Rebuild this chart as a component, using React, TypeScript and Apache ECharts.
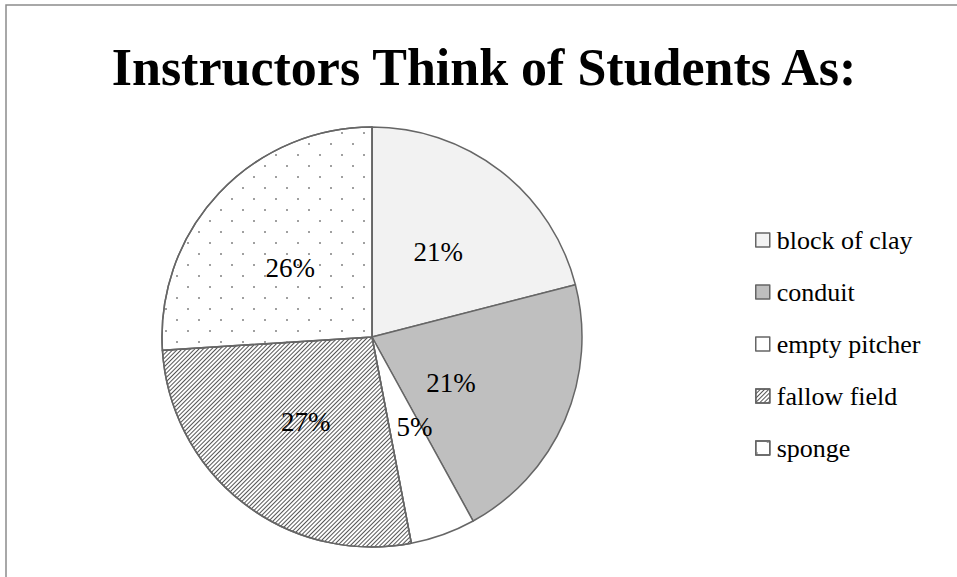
import React, { useEffect, useRef } from "react";
import * as echarts from "echarts";

const titleText = "Instructors Think of Students As:";
const categories = ["block of clay", "conduit", "empty pitcher", "fallow field", "sponge"];
const values = [21, 21, 5, 27, 26];

const FONT = "'Liberation Serif', 'Times New Roman', serif";

export default function App() {
  const ref = useRef<HTMLDivElement>(null);
  useEffect(() => {
    if (!ref.current) return;
    const chart = echarts.init(ref.current, undefined, { renderer: "svg" });
    const fills: Record<string, string> = {
      "block of clay": "#f2f2f2",
      conduit: "#bfbfbf",
      "empty pitcher": "#ffffff",
      "fallow field": "#ffffff",
      sponge: "#ffffff",
    };
    const decals: Record<string, any> = {
      "fallow field": {
        symbol: "rect",
        symbolSize: 1,
        dashArrayX: [1, 0],
        dashArrayY: [1, 2],
        rotation: -Math.PI / 4,
        color: "#555555",
      },
      sponge: {
        symbol: "rect",
        symbolSize: 1,
        dashArrayX: [[2, 20], [0, 11, 2, 9]],
        dashArrayY: [2, 9],
        rotation: 0,
        color: "#a0a0a0",
      },
    };
    const labelNudge: Record<string, number[]> = {
      conduit: [-20, 3],
      "empty pitcher": [6, -12],
      sponge: [-3, 5],
    };
    const data = categories.map((name, i) => {
      const itemStyle: any = { color: fills[name] };
      if (decals[name]) itemStyle.decal = decals[name];
      const item: any = { name, value: values[i], itemStyle };
      if (labelNudge[name]) item.label = { offset: labelNudge[name] };
      return item;
    });
    chart.setOption({
      animation: false,
      aria: { enabled: false, decal: { show: true } },
      title: {
        text: titleText,
        left: 479,
        textAlign: "center",
        top: 36,
        textStyle: { fontFamily: FONT, fontWeight: "bold", fontSize: 52, color: "#000" },
      },
      graphic: [
        {
          type: "rect",
          shape: { x: 6, y: 5, width: 1200, height: 1000 },
          style: { fill: "none", stroke: "#8c8c8c", lineWidth: 1.5 },
          silent: true,
        },
      ],
      legend: {
        orient: "vertical",
        left: 750,
        top: 220,
        itemWidth: 14,
        itemHeight: 14,
        itemGap: 22,
        icon: "rect",
        selectedMode: false,
        data: categories,
        itemStyle: { borderColor: "#666666", borderWidth: 1.5 },
        textStyle: { fontFamily: FONT, fontSize: 26, color: "#000", lineHeight: 30, padding: [0, 0, 0, 2] },
      },
      series: [
        {
          type: "pie",
          center: [372, 337],
          radius: 210,
          startAngle: 90,
          clockwise: true,
          silent: true,
          emphasis: { disabled: true },
          itemStyle: { borderColor: "#666666", borderWidth: 1.5 },
          label: {
            show: true,
            position: "inside",
            fontFamily: FONT,
            fontSize: 27,
            color: "#000",
            formatter: (p: any) => Math.round(p.percent) + "%",
          },
          labelLine: { show: false },
          data,
        },
      ],
    });
    return () => chart.dispose();
  }, []);
  return (
    <div
      ref={ref}
      style={{ position: "absolute", left: 0, top: 0, width: 957, height: 577, background: "#fff" }}
    />
  );
}
